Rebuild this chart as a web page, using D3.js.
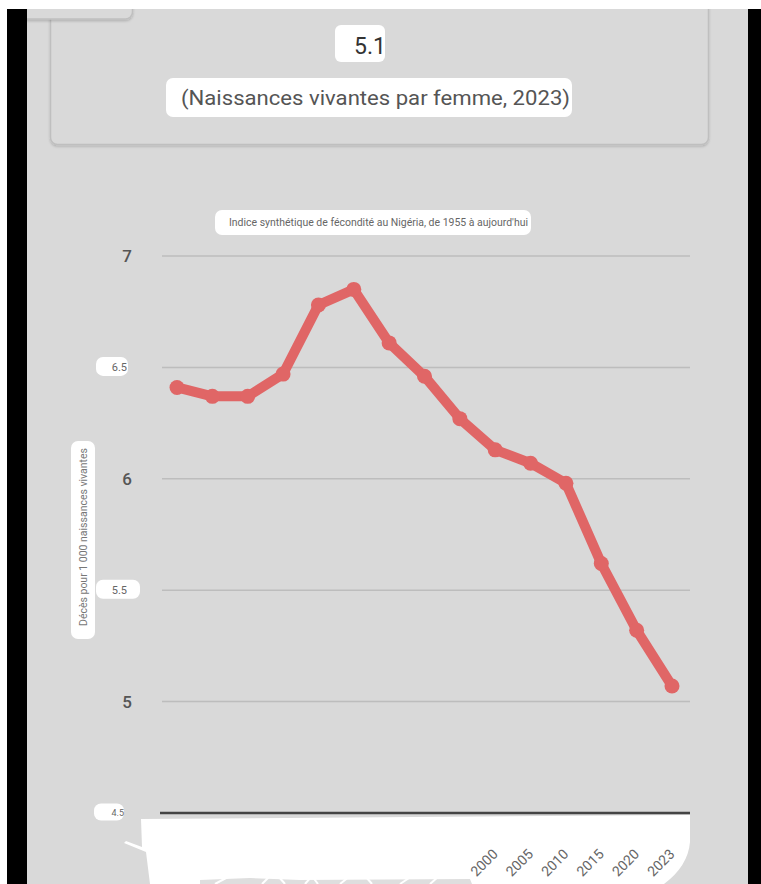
<!DOCTYPE html>
<html>
<head>
<meta charset="utf-8">
<script src="https://cdn.jsdelivr.net/npm/d3@7"></script>
<style>
  html, body { margin: 0; padding: 0; background: #ffffff; }
  svg { display: block; font-family: Roboto, "Noto Sans", sans-serif; }
</style>
</head>
<body>
<svg id="chart" width="761" height="884"></svg>
<script>
// ---- data ----
const years = [1955, 1960, 1965, 1970, 1975, 1980, 1985, 1990, 1995, 2000, 2005, 2010, 2015, 2020, 2023];
const fertility = [6.41, 6.37, 6.37, 6.47, 6.78, 6.85, 6.61, 6.46, 6.27, 6.13, 6.07, 5.98, 5.62, 5.32, 5.07];
const yTicks = [4.5, 5, 5.5, 6, 6.5, 7];
const xTickLabels = [2000, 2005, 2010, 2015, 2020, 2023];
const headline = "5.1";
const subtitle = "(Naissances vivantes par femme, 2023)";
const chartTitle = "Indice synthétique de fécondité au Nigéria, de 1955 à aujourd'hui";
const yTitle = "Décès pour 1 000 naissances vivantes";

(function () {
const svg = d3.select("#chart");
const W = 761, H = 884;
const bg = "#d9d9d9";

const defs = svg.append("defs");
const f = defs.append("filter").attr("id", "sh").attr("x", "-5%").attr("y", "-5%").attr("width", "110%").attr("height", "120%");
f.append("feDropShadow").attr("dx", 0).attr("dy", 1.5).attr("stdDeviation", 1.2).attr("flood-color", "#000").attr("flood-opacity", 0.18);

// page background
svg.append("rect").attr("width", W).attr("height", H).attr("fill", "#ffffff");
svg.append("rect").attr("x", 7).attr("y", 9).attr("width", W - 7).attr("height", H - 9).attr("fill", bg);

const topG = svg.append("g");
topG.append("rect").attr("x", 50.5).attr("y", -30).attr("width", 658).attr("height", 174.5).attr("rx", 7)
  .attr("fill", bg).attr("stroke", "#bfbfbf").attr("stroke-width", 1.5).attr("filter", "url(#sh)");
topG.append("rect").attr("x", 20).attr("y", -30).attr("width", 112.5).attr("height", 49).attr("rx", 7)
  .attr("fill", bg).attr("stroke", "#bfbfbf").attr("stroke-width", 1.5).attr("filter", "url(#sh)");

// headline
topG.append("rect").attr("x", 335).attr("y", 25).attr("width", 50).attr("height", 37).attr("rx", 6).attr("fill", "#fff");
topG.append("text").attr("x", 386).attr("y", 54).attr("text-anchor", "end")
  .attr("font-size", 23).attr("fill", "#333").text(headline);
topG.append("rect").attr("x", 166).attr("y", 78).attr("width", 406).attr("height", 39).attr("rx", 7).attr("fill", "#fff");
topG.append("text").attr("x", 181).attr("y", 105).attr("font-size", 20).attr("fill", "#555")
  .attr("textLength", 389).attr("lengthAdjust", "spacingAndGlyphs").text(subtitle);

// frame: top white strip and black side bars
svg.append("rect").attr("x", 0).attr("y", 0).attr("width", W).attr("height", 9).attr("fill", "#fff");
svg.append("rect").attr("x", 0).attr("y", 0).attr("width", 7).attr("height", H).attr("fill", "#fff");
svg.append("rect").attr("x", 7).attr("y", 9).attr("width", 20).attr("height", H - 9).attr("fill", "#000");
svg.append("rect").attr("x", 748).attr("y", 9).attr("width", 13).attr("height", H - 9).attr("fill", "#000");

// chart title
svg.append("rect").attr("x", 215).attr("y", 210).attr("width", 316).attr("height", 25).attr("rx", 7).attr("fill", "#fff");
svg.append("text").attr("x", 229).attr("y", 226).attr("font-size", 11).attr("fill", "#666")
  .attr("textLength", 299).attr("lengthAdjust", "spacingAndGlyphs").text(chartTitle);

// scales
const x = d3.scalePoint().domain(years).range([177, 672]);
const y = d3.scaleLinear().domain([4.5, 7]).range([813, 256]);

// gridlines
svg.append("g").selectAll("line").data(yTicks.filter(d => d > 4.5)).join("line")
  .attr("x1", 162).attr("x2", 690).attr("y1", d => y(d)).attr("y2", d => y(d))
  .attr("stroke", "#bdbdbd").attr("stroke-width", 1.5);

// y tick labels
const yl = svg.append("g");
yTicks.forEach(t => {
  const yy = y(t);
  if (Number.isInteger(t)) {
    yl.append("text").attr("x", 127).attr("y", yy + 6).attr("text-anchor", "middle")
      .attr("font-size", 17).attr("font-weight", 500).attr("fill", "#555").text(d3.format("d")(t));
  } else {
    const small = t === 4.5;
    const bx = small ? 94 : 96, bw = small ? 30 : (t === 5.5 ? 44 : 32);
    const bh = small ? 17 : 19;
    yl.append("rect").attr("x", bx).attr("y", yy - bh / 2 - 1).attr("width", bw).attr("height", bh).attr("rx", 7).attr("fill", "#fff");
    yl.append("text").attr("x", small ? 124 : 127).attr("y", yy + (small ? 3 : 3.5)).attr("text-anchor", "end")
      .attr("font-size", small ? 9 : 11).attr("fill", "#666").text(d3.format(".1f")(t));
  }
});

// y axis title
svg.append("rect").attr("x", 71).attr("y", 441).attr("width", 24).attr("height", 198).attr("rx", 7).attr("fill", "#fff");
svg.append("text").attr("transform", "translate(87,537) rotate(-90)").attr("text-anchor", "middle")
  .attr("font-size", 10.5).attr("fill", "#777")
  .attr("textLength", 178).attr("lengthAdjust", "spacingAndGlyphs").text(yTitle);

// white smear over bottom axis
svg.append("path")
  .attr("d", "M141,819 L690,815 L690,842 Q688,866 664,884 L150,884 L146,852 L124,843 L126,841 L142,847 Z")
  .attr("fill", "#fff");
svg.append("path").attr("d", "M200,880 L250,878 L300,880 L470,879 L472,884 L200,884 Z").attr("fill", "#dedede");
const scr = svg.append("g").attr("stroke", "#fff").attr("stroke-width", 2).attr("fill", "none");
["M215,884 L228,877", "M262,884 L270,876", "M285,884 L278,876", "M305,884 L312,876 L318,884", "M340,884 L350,876",
 "M372,884 L366,877", "M400,884 L412,876", "M430,884 L438,877"]
  .forEach(p => scr.append("path").attr("d", p));

// baseline
svg.append("line").attr("x1", 160).attr("x2", 690).attr("y1", y(4.5)).attr("y2", y(4.5))
  .attr("stroke", "#444").attr("stroke-width", 2.5);

// x axis labels
const xAxis = d3.axisBottom(x).tickValues(xTickLabels).tickSize(0).tickFormat(d3.format("d"));
const xg = svg.append("g").attr("transform", `translate(0,${y(4.5)})`).call(xAxis);
xg.select(".domain").remove();
xg.selectAll("text").attr("x", 0).attr("y", 0).attr("dy", 0)
  .attr("transform", "translate(3,42) rotate(-45)")
  .attr("text-anchor", "end").attr("font-size", 14).attr("font-family", "Roboto, sans-serif").attr("fill", "#666");

// line
const color = "#e06666";
const line = d3.line().x((d, i) => x(years[i])).y(d => y(d));
svg.append("path").datum(fertility).attr("d", line)
  .attr("fill", "none").attr("stroke", color).attr("stroke-width", 10)
  .attr("stroke-linejoin", "round").attr("stroke-linecap", "round");
svg.append("g").selectAll("circle").data(fertility).join("circle")
  .attr("cx", (d, i) => x(years[i])).attr("cy", d => y(d)).attr("r", 7.5).attr("fill", color);
})();
</script>
</body>
</html>
